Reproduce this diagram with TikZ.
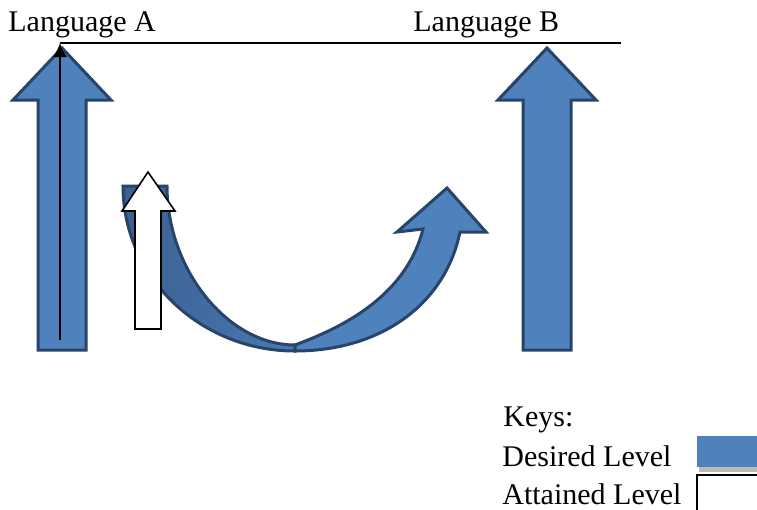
\documentclass[tikz,border=0pt]{standalone}
\usepackage{fontspec}
\setmainfont{Liberation Serif}
\usetikzlibrary{arrows.meta}
\definecolor{levelblue}{HTML}{4F81BD}
\definecolor{leveldark}{HTML}{3A6092}
\definecolor{levelmid}{HTML}{4A79B2}
\definecolor{levelline}{HTML}{27446A}
\tikzset{
  desired/.style={fill=levelblue,draw=levelline,line width=1.5pt},
  attained/.style={fill=white,draw=black,line width=0.8pt},
  lbl/.style={anchor=base west,inner sep=0pt,font=\fontsize{15}{18}\selectfont}
}
\begin{document}
\begin{tikzpicture}[x=0.5pt,y=-0.5pt]
			\clip (0,0) rectangle (757,510);
			\foreach \c in {62,547}{
				\draw[desired] (\c-24,350) -- (\c-24,100) -- (\c-49,100) -- (\c,48) -- (\c+49,100) -- (\c+24,100) -- (\c+24,350) -- cycle;
			}
			
			\draw[desired,left color=leveldark,right color=levelmid] (123,186) .. controls (123,277) and (200,351) .. (295,351) -- (295,345) .. controls (228,345) and (167,270) .. (167,186) -- cycle;
			\draw[desired] (295,345) .. controls (335,330) and (405,300) .. (423,229) -- (397,232) -- (447,188) -- (486,232) -- (460,232) .. controls (445,305) and (380,351) .. (295,351) -- cycle;
			\draw[attained] (135,329) -- (135,211) -- (122,211) -- (148,172) -- (175,211) -- (161,211) -- (161,329) -- cycle;
			
			\coordinate (base) at (60,340);
			\coordinate (top) at (60,43);
			\coordinate (lineend) at (621,43);
			\draw[line width=0.8pt,-{Latex[length=7pt,width=7pt]}] (base) -- (top);
			\draw[line width=0.8pt] (top) -- (lineend);
			
			\node[lbl] (langA) at (8,31) {Language A};
			\node[lbl] (langB) at (413,31) {Language B};
			\node[lbl] (keys) at (503,426) {Keys:};
			\node[lbl] (desiredkey) at (502,466) {Desired Level};
			\node[lbl] (attainedkey) at (502,504) {Attained Level};
			
			\fill[gray!55] (699,466) rectangle (760,472);
			\fill[levelblue] (697,436) rectangle (760,467);
			\draw[line width=0.8pt] (697,475) rectangle (760,515);
		\end{tikzpicture}
\end{document}
